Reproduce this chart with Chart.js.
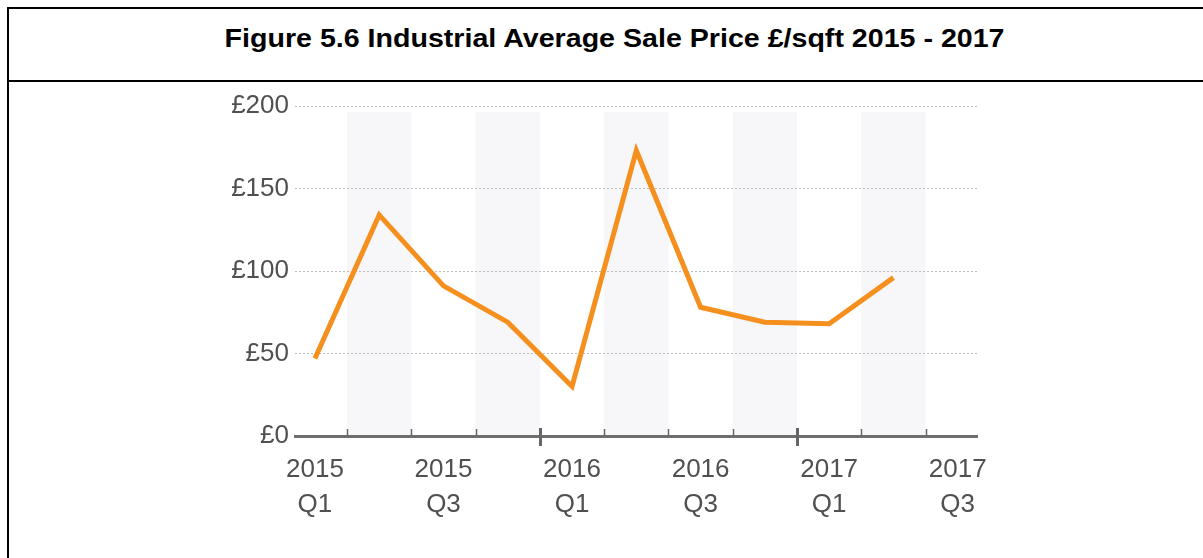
<!DOCTYPE html>
<html>
<head>
<meta charset="utf-8">
<script src="https://cdn.jsdelivr.net/npm/chart.js@4"></script>
<style>
  html, body { margin: 0; padding: 0; background: #fff; overflow: hidden; }
  body { width: 1203px; height: 558px; position: relative; font-family: "Liberation Sans", Arial, sans-serif; }
  #frame {
    position: absolute; left: 7px; top: 7px; width: 1230px; height: 600px;
    border: 2px solid #000; box-sizing: border-box;
  }
  #title {
    height: 73px; border-bottom: 2px solid #000; box-sizing: border-box;
    display: flex; align-items: center; justify-content: center;
    padding-bottom: 12px; width: 1212px;
  }
  #title span {
    font-weight: bold; font-size: 26px; color: #000;
    display: inline-block; transform: scaleX(1.1);
  }
  #wrap { position: absolute; left: 0; top: 0; width: 1203px; height: 558px; }
</style>
</head>
<body>
<div id="frame"><div id="title"><span>Figure 5.6 Industrial Average Sale Price £/sqft 2015 - 2017</span></div></div>
<div id="wrap"><canvas id="chart"></canvas></div>
<script>
const quarters = ["2015 Q1", "2015 Q2", "2015 Q3", "2015 Q4",
                  "2016 Q1", "2016 Q2", "2016 Q3", "2016 Q4",
                  "2017 Q1", "2017 Q2", "2017 Q3"]
const avgPrice = [47, 134, 91, 69, 30, 173, 78, 69, 68, 96]
const labelledQuarters = [0, 2, 4, 6, 8, 10]
const priceTicks = [0, 50, 100, 150, 200]

// light columns behind every second quarter, and the quarter / year tick marks
const quarterMarks = {
  id: "quarterMarks",
  beforeDraw(chart) {
    const { ctx, chartArea, scales: { x } } = chart
    ctx.save()
    ctx.fillStyle = "#f7f7f9"
    for (let i = 1; i < quarters.length - 1; i += 2) {
      const l = x.getPixelForValue(i - 0.5)
      const r = x.getPixelForValue(i + 0.5)
      ctx.fillRect(l, chartArea.top + 6, r - l, chartArea.bottom - chartArea.top - 6)
    }
    ctx.restore()
  },
  afterDraw(chart) {
    const { ctx, chartArea, scales: { x } } = chart
    const y = chartArea.bottom
    ctx.save()
    ctx.strokeStyle = "#666"
    for (let i = 0; i < quarters.length - 1; i++) {
      const px = Math.round(x.getPixelForValue(i + 0.5)) + 0.5
      const yearEnd = quarters[i + 1].endsWith("Q1")
      ctx.lineWidth = yearEnd ? 3 : 1.5
      ctx.beginPath()
      ctx.moveTo(px, y - (yearEnd ? 8 : 7))
      ctx.lineTo(px, y + (yearEnd ? 10 : 0))
      ctx.stroke()
    }
    ctx.restore()
  }
}

new Chart(document.getElementById("chart"), {
  type: "line",
  data: {
    datasets: [{
      data: avgPrice.map((v, i) => ({ x: i, y: v })),
      borderColor: "#f5901e",
      borderWidth: 5,
      pointRadius: 0,
      tension: 0
    }]
  },
  options: {
    responsive: true,
    maintainAspectRatio: false,
    animation: false,
    events: [],
    layout: { padding: { left: 225, top: 106, right: 226, bottom: 22 } },
    plugins: { legend: { display: false }, tooltip: { enabled: false } },
    scales: {
      x: {
        type: "linear",
        min: -0.31,
        max: 10.3,
        afterBuildTicks: s => { s.ticks = labelledQuarters.map(v => ({ value: v })) },
        afterFit: s => { s.height = 100 },
        grid: { display: false, drawTicks: false },
        border: { display: true, color: "#6e6e6e", width: 3 },
        ticks: {
          padding: 16,
          color: "#505050",
          font: { family: "Liberation Sans, Arial, sans-serif", size: 26, lineHeight: 1.35 },
          callback: v => quarters[v].split(" ")
        }
      },
      y: {
        min: 0,
        max: 200,
        afterBuildTicks: s => { s.ticks = priceTicks.map(v => ({ value: v })) },
        afterFit: s => { s.width = 70 },
        grid: { color: "#bdbdbd", lineWidth: 1, drawTicks: false },
        border: { display: false, dash: [2, 2] },
        ticks: {
          padding: 6,
          color: "#505050",
          font: { family: "Liberation Sans, Arial, sans-serif", size: 26 },
          callback: v => "£" + v
        }
      }
    }
  },
  plugins: [quarterMarks]
})
</script>
</body>
</html>
